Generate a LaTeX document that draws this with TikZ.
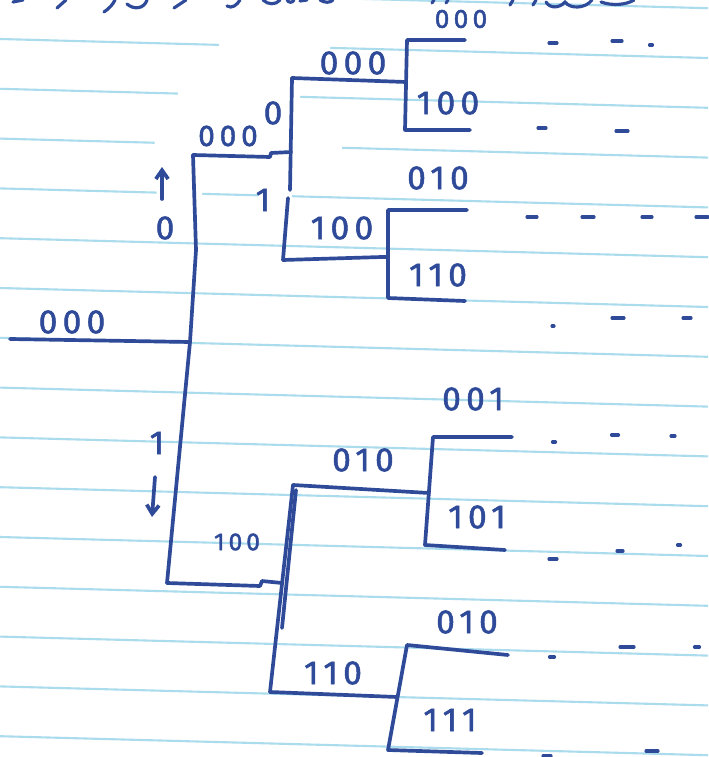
\documentclass[tikz,border=0pt]{standalone}
\usepackage{fontspec}
\newfontfamily\handfont[LetterSpace=16,FakeBold=1.6]{Fira Sans}
\usetikzlibrary{arrows.meta}
\definecolor{ink}{RGB}{46,74,152}
\definecolor{rule}{RGB}{170,220,238}

\begin{document}
\begin{tikzpicture}[
    x=0.02cm, y=-0.02cm,
    >={Straight Barb[length=5pt,width=7pt]},
    ink/.style={draw=ink, line width=2.1pt, line cap=round, line join=round},
    flick/.style={draw=ink, line width=1.8pt, line cap=round},
    ruled/.style={draw=rule, line width=1.2pt},
    bits/.style={text=ink, inner sep=0pt,
                 font=\handfont\fontsize{#1}{#1}\selectfont},
    bits/.default=19,
  ]
  \useasboundingbox (0,0) rectangle (708,757);
  \fill[white] (0,0) rectangle (708,757);

  % paper
  \begin{scope}
    \clip (0,0) rectangle (708,757);
    \foreach \n in {-1,...,14}
      \draw[ruled] (0,{39+49.8*\n}) -- (708,{58+49.8*\n});
    \fill[white] (220,20) -- (330,20) -- (330,60) -- (300,70) -- (300,120)
      -- (342,125) -- (342,165) -- (292,170) -- (292,203) -- (258,203)
      -- (258,183) -- (202,183) -- (202,203) -- (157,203) -- (154,125)
      -- (178,118) -- (178,80) -- (218,72) -- cycle;
  \end{scope}

  % cut-off handwriting at the top edge
  \draw[flick] (13,2) -- (23,0);
  \draw[flick] (57,8) -- (66,0);
  \draw[flick] (104,12) .. controls (110,8) and (113,4) .. (115,0);
  \draw[flick] (127,4) .. controls (134,10) and (144,9) .. (147,0);
  \draw[flick] (174,8) -- (186,0);
  \draw[flick] (227,6) .. controls (232,9) and (237,5) .. (240,0);
  \draw[flick] (263,0) .. controls (268,5) and (276,5) .. (280,0);
  \draw[flick] (287,0) .. controls (289,3) and (292,3) .. (294,0);
  \draw[flick] (300,1) -- (307,0);
  \draw[flick] (320,0) .. controls (325,3) and (330,3) .. (333,0);
  \draw[flick] (432,3) -- (434,0);
  \draw[flick] (446,3) -- (448,0);
  \draw[flick] (510,5) -- (513,0);
  \draw[flick] (533,5) -- (536,0);
  \draw[flick] (546,2) .. controls (550,9) and (560,8) .. (565,2)
    .. controls (570,9) and (585,9) .. (592,0);
  \draw[flick] (601,2) .. controls (612,6) and (626,5) .. (634,0);

  % tree
  \coordinate (r0) at (10,339);
  \coordinate (j0) at (190,342);
  \coordinate (t0) at (193,155);
  \coordinate (b0) at (167,583);
  \draw[ink] (r0) -- (j0);
  \draw[ink] (t0) -- (196,250) -- (j0) -- (b0);

  \coordinate (j1) at (291,152);
  \coordinate (t1) at (292,78);
  \coordinate (b1) at (283,260);
  \draw[ink] (t0) -- (270,157) -- (271,153) -- (j1);
  \draw[ink] (t1) -- (290,190);
  \draw[ink] (288,198) -- (b1);

  \coordinate (j2) at (406,82);
  \coordinate (t2) at (407,40);
  \coordinate (b2) at (405,130);
  \coordinate (e2a) at (465,40);
  \coordinate (e2b) at (470,130);
  \draw[ink] (t1) -- (j2);
  \draw[ink] (e2a) -- (t2) -- (b2) -- (e2b);

  \coordinate (j3) at (388,257);
  \coordinate (t3) at (388,210);
  \coordinate (b3) at (388,298);
  \coordinate (e3a) at (467,210);
  \coordinate (e3b) at (465,301);
  \draw[ink] (b1) -- (382,257) -- (j3);
  \draw[ink] (e3a) -- (t3) -- (b3) -- (e3b);

  \coordinate (j4) at (282,583);
  \coordinate (t4) at (293,485);
  \coordinate (b4) at (270,692);
  \draw[ink] (b0) -- (260,586) -- (262,581) -- (j4);
  \draw[ink] (t4) -- (b4);
  \draw[ink] (296,490) -- (282,628);

  \coordinate (j5) at (429,493);
  \coordinate (t5) at (433,437);
  \coordinate (b5) at (425,545);
  \coordinate (e5a) at (512,437);
  \coordinate (e5b) at (505,550);
  \draw[ink] (t4) -- (j5);
  \draw[ink] (e5a) -- (t5) -- (b5) -- (e5b);

  \coordinate (j6) at (397,697);
  \coordinate (t6) at (407,645);
  \coordinate (b6) at (388,750);
  \coordinate (e6a) at (508,655);
  \coordinate (e6b) at (482,753);
  \draw[ink] (b4) -- (j6);
  \draw[ink] (e6a) -- (t6) -- (b6) -- (e6b);

  % direction arrows
  \coordinate (au0) at (162,199);
  \coordinate (au1) at (162,167);
  \coordinate (ad0) at (155,477);
  \coordinate (ad1) at (152,517);
  \draw[ink, ->] (au0) -- (au1);
  \draw[ink, ->] (ad0) -- (ad1);

  % labels
  \node[bits] (lroot) at (72,322) {000};
  \node[bits=17] (lup) at (228,136) {000};
  \node[bits] (lupz) at (273,113) {0};
  \node[bits] (lupo) at (263,200) {1};
  \node[bits] (lzero) at (165,228) {0};
  \node[bits] (lone) at (157,443) {1};
  \node[bits=15] (ltop) at (461,19) {000};
  \node[bits] (luu) at (353,63) {000};
  \node[bits] (luub) at (448,103) {100};
  \node[bits] (lul) at (342,228) {100};
  \node[bits] (lula) at (438,178) {010};
  \node[bits] (lulb) at (438,275) {110};
  \node[bits=14] (ldn) at (237,542) {100};
  \node[bits] (ldu) at (363,460) {010};
  \node[bits] (ldua) at (473,399) {001};
  \node[bits] (ldub) at (477,517) {101};
  \node[bits] (ldl) at (333,673) {110};
  \node[bits] (ldla) at (467,622) {010};
  \node[bits] (ldlb) at (450,720) {111};

  % trailing marks
  \foreach \x/\y/\l in {553/43/8, 617/41/10, 651/45/3,
                        542/128/8, 622/131/12,
                        532/217/10, 588/217/12, 647/217/10, 702/217/12,
                        553/326/2, 618/318/12, 687/318/8,
                        554/442/3, 615/435/7, 673/436/4,
                        553/559/8, 620/551/6, 679/545/3,
                        552/657/5, 627/647/14, 697/647/5,
                        547/756/8, 652/751/12}
    \draw[flick] ({\x-\l/2},\y) -- ({\x+\l/2},\y);
\end{tikzpicture}
\end{document}
